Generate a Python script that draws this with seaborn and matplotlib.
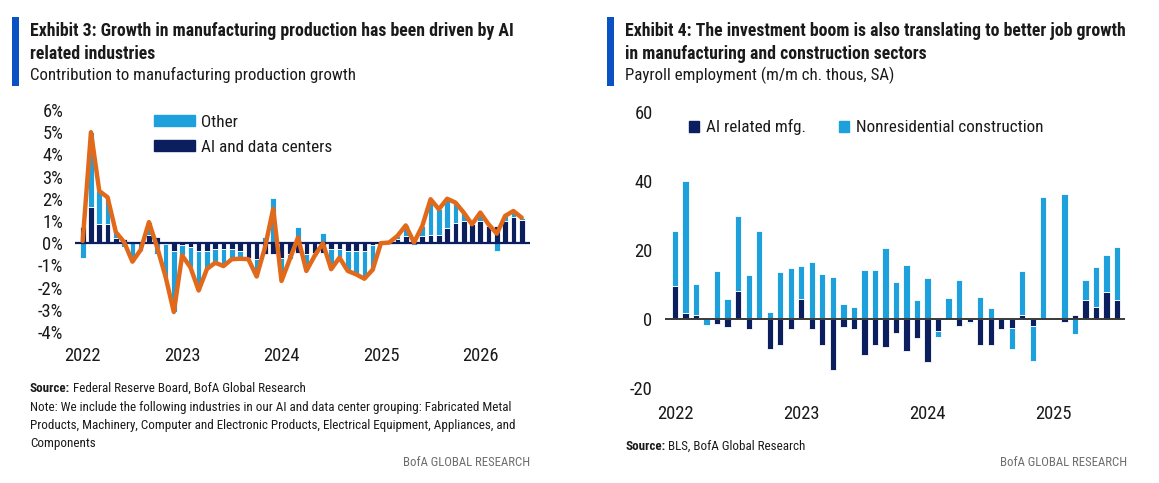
import numpy as np
import matplotlib
matplotlib.use('Agg')
import matplotlib.pyplot as plt
import seaborn as sns
from matplotlib import font_manager
from matplotlib.patches import Rectangle

# Exhibit 3: monthly contributions (%), Jan 2022 .. Jun 2026
ai_contrib = [0.75, 1.65, 0.85, 0.87, 0.25, 0.20, 0.02, 0.05, 0.35, 0.30,
              -0.05, -0.35, -0.10, -0.18, -0.35, -0.35, -0.28, -0.28, -0.28, -0.35,
              -0.65, -0.72, -0.50, -0.50, -0.65, -0.50, -0.45, -0.50, -0.42, -0.45,
              -0.27, -0.27, -0.35, -0.35, -0.35, -0.10, 0.02, 0.05, 0.20, 0.33,
              0.10, 0.33, 0.37, 0.37, 0.70, 0.93, 1.00, 0.85, 0.98, 0.78,
              0.78, 1.00, 1.18, 1.05]
other_contrib = [-0.65, 3.35, 1.50, 1.20, 0.25, -0.15, -0.85, -0.35, 0.60, -0.50,
                 -1.45, -2.75, -0.45, -0.90, -1.78, -0.81, -0.60, -0.75, -0.44, -0.35,
                 -0.07, -0.78, 0.30, 2.05, -1.05, -0.22, 0.71, -0.75, -0.15, 0.45,
                 -0.90, -0.38, -0.90, -1.05, -1.25, -1.10, -0.02, -0.02, 0.13, 0.47,
                 -0.07, 0.45, 1.61, 1.16, 1.30, 0.90, 0.38, 0.00, 0.40, 0.07,
                 -0.35, 0.23, 0.27, 0.10]
total_growth = [0.10, 5.00, 2.35, 2.07, 0.50, 0.05, -0.83, -0.30, 0.95, -0.20,
                -1.50, -3.10, -0.55, -1.08, -2.13, -1.16, -0.88, -1.03, -0.72, -0.70,
                -0.72, -1.50, -0.20, 1.55, -1.70, -0.72, 0.26, -1.25, -0.57, 0.00,
                -1.17, -0.65, -1.25, -1.40, -1.60, -1.20, 0.00, 0.03, 0.33, 0.80,
                0.03, 0.78, 1.98, 1.53, 2.00, 1.83, 1.38, 0.85, 1.38, 0.85,
                0.43, 1.23, 1.45, 1.15]
left_years = ["2022", "2023", "2024", "2025", "2026"]

# Exhibit 4: payroll change (thous), Jan 2022 .. Jul 2025
ai_mfg = [9.5, 1.9, 1.1, 0.0, -1.5, -2.3, 8.2, -2.9, 0.0, -8.6,
          -7.6, -2.9, 5.9, -2.9, -7.6, -14.7, -2.4, -2.9, -10.5, -7.6,
          -8.1, -4.1, -9.1, -5.5, -12.5, -3.3, 0.0, -2.1, -0.7, -7.4,
          -7.4, -2.9, -2.6, 1.3, -2.1, 0.0, 0.0, -0.9, 1.1, 5.5,
          3.6, 7.9, 5.5]
nonres_constr = [16.1, 38.0, 9.1, -1.6, 14.0, 5.9, 21.6, 12.7, 25.4, 2.2,
                 13.7, 14.8, 9.4, 16.6, 13.0, 12.2, 4.4, 3.6, 14.1, 14.1,
                 20.7, 10.7, 15.7, 5.4, 11.9, -2.0, 6.1, 11.3, -0.4, 6.4,
                 3.1, 0.0, -6.1, 12.7, -9.9, 35.4, 0.0, 36.2, -4.3, 5.7,
                 11.6, 10.6, 15.5]
right_years = ["2022", "2023", "2024", "2025"]

NAVY = "#0b1f5e"
LIGHT = "#1ea0dc"
ORANGE = "#e3691a"
HEADER = "#0a52c4"
GREY = "#6e6e6e"

sns.set_style("white")
installed = {f.name for f in font_manager.fontManager.ttflist}
family = next((f for f in ["Liberation Sans Narrow", "Roboto Condensed", "DejaVu Sans Condensed",
                           "Open Sans Condensed", "Roboto", "Lato"] if f in installed), "DejaVu Sans")
plt.rcParams['font.family'] = [family, 'DejaVu Sans']
plt.rcParams['axes.unicode_minus'] = False
plt.rcParams['text.color'] = '#1a1a1a'
plt.rcParams['xtick.color'] = '#1a1a1a'
plt.rcParams['ytick.color'] = '#1a1a1a'

W, H = 1159, 483
fig = plt.figure(figsize=(W / 100, H / 100), dpi=100)
renderer = fig.canvas.get_renderer()


def fit(s, target, weight="normal"):
    # font size that makes s about target pixels wide
    t = fig.text(0, 0, s, fontsize=10, fontweight=weight)
    w = t.get_window_extent(renderer).width
    t.remove()
    return 10 * target / w


TITLE_FS = fit("Exhibit 3: Growth in manufacturing production has been driven by AI", 483, "bold")
SUB_FS = fit("Contribution to manufacturing production growth", 325)
NOTE_FS = fit("Note: We include the following industries in our AI and data center grouping: Fabricated Metal", 476)
TICK_FS = fit("2022", 36)
LEG_FS = fit("AI and data centers", 130)
BRAND_FS = fit("BofA GLOBAL RESEARCH", 127)


def px_axes(x0, x1, y0, y1):
    return fig.add_axes([x0 / W, 1 - y1 / H, (x1 - x0) / W, (y1 - y0) / H])


def stacked(ax, first, second, width):
    first = np.asarray(first, dtype=float)
    second = np.asarray(second, dtype=float)
    idx = np.arange(len(first))
    base2 = np.where(second >= 0, np.maximum(first, 0), np.minimum(first, 0))
    ax.bar(idx, first, width=width, color=NAVY, edgecolor="white", linewidth=0.6, zorder=2)
    ax.bar(idx, second, bottom=base2, width=width, color=LIGHT, edgecolor="white", linewidth=0.6, zorder=2)


def header(xbar, xt, lines, sub):
    fig.add_artist(Rectangle((xbar / W, 1 - 86 / H), 7.5 / W, 69 / H, transform=fig.transFigure,
                             color=HEADER, lw=0))
    fig.text(xt / W, 1 - 31 / H, lines[0], fontsize=TITLE_FS, fontweight="bold", va="center")
    fig.text(xt / W, 1 - 54 / H, lines[1], fontsize=TITLE_FS, fontweight="bold", va="center")
    fig.text(xt / W, 1 - 75 / H, sub, fontsize=SUB_FS, va="center")


def source(x, y, rest):
    t = fig.text(x / W, 1 - y / H, "Source:", fontsize=NOTE_FS, fontweight="bold", va="center")
    bb = t.get_window_extent(renderer)
    fig.text(bb.x1 / W + 2.5 / W, 1 - y / H, rest, fontsize=NOTE_FS, va="center")


# ---- left panel ----
axl = px_axes(75, 530, 110, 332)
n_left = len(ai_contrib)
sp_l = (521.7 - 82.7) / (n_left - 1)
stacked(axl, ai_contrib, other_contrib, 0.68)
sns.lineplot(x=np.arange(n_left), y=total_growth, ax=axl, color=ORANGE, linewidth=3.2, zorder=4)
axl.axhline(0, color=NAVY, lw=1.6, zorder=3)
axl.set_xlim(-(82.7 - 75) / sp_l, (530 - 82.7) / sp_l)
axl.set_ylim(-4, 6)
axl.set_yticks(range(-4, 7))
axl.set_yticklabels([f"{v}%" for v in range(-4, 7)])
axl.set_xticks([12 * k for k in range(len(left_years))])
axl.set_xticklabels(left_years)
axl.tick_params(axis="y", length=0, pad=8.5, labelsize=TICK_FS)
axl.tick_params(axis="x", length=0, pad=11, labelsize=TICK_FS)
sns.despine(ax=axl, left=True, bottom=True)
axl.legend(handles=[Rectangle((0, 0), 1, 1, color=LIGHT), Rectangle((0, 0), 1, 1, color=NAVY)],
           labels=["Other", "AI and data centers"], loc="upper left",
           bbox_to_anchor=((147 - 75) / 455, 1.01), frameon=False, fontsize=LEG_FS,
           handlelength=2.4, handleheight=0.6, handletextpad=0.35, labelspacing=0.6,
           borderaxespad=0)

header(12, 30, ["Exhibit 3: Growth in manufacturing production has been driven by AI",
                "related industries"], "Contribution to manufacturing production growth")
source(30, 388, "Federal Reserve Board, BofA Global Research")
note = ["Note: We include the following industries in our AI and data center grouping: Fabricated Metal",
        "Products, Machinery, Computer and Electronic Products, Electrical Equipment, Appliances, and",
        "Components"]
for k, line in enumerate(note):
    fig.text(30 / W, 1 - (407 + 18 * k) / H, line, fontsize=NOTE_FS, va="center")
fig.text(530 / W, 1 - 463 / H, "BofA GLOBAL RESEARCH", fontsize=BRAND_FS, color=GREY, va="center", ha="right")

# ---- right panel ----
axr = px_axes(665, 1125, 111.7, 388.3)
n_right = len(ai_mfg)
sp_r = (1117 - 675) / (n_right - 1)
stacked(axr, ai_mfg, nonres_constr, 0.6)
axr.axhline(0, color="#3a3a3a", lw=1.4, zorder=3)
axr.set_xlim(-(675 - 665) / sp_r, (1125 - 675) / sp_r)
axr.set_ylim(-20, 60)
axr.set_yticks([-20, 0, 20, 40, 60])
axr.set_xticks([12 * k for k in range(len(right_years))])
axr.set_xticklabels(right_years)
axr.tick_params(axis="y", length=0, pad=9, labelsize=TICK_FS)
axr.tick_params(axis="x", length=0, pad=12, labelsize=TICK_FS)
sns.despine(ax=axr, left=True, bottom=True)
axr.legend(handles=[Rectangle((0, 0), 1, 1, color=NAVY), Rectangle((0, 0), 1, 1, color=LIGHT)],
           labels=["AI related mfg.", "Nonresidential construction"], loc="upper left",
           bbox_to_anchor=((682 - 665) / 460, 0.997), frameon=False, fontsize=LEG_FS, ncol=2,
           handlelength=0.6, handleheight=0.6, handletextpad=0.4, columnspacing=1.9,
           borderaxespad=0)

header(607, 625, ["Exhibit 4: The investment boom is also translating to better job growth",
                  "in manufacturing and construction sectors"], "Payroll employment (m/m ch. thous, SA)")
source(625, 446, "BLS, BofA Global Research")
fig.text(1127 / W, 1 - 463 / H, "BofA GLOBAL RESEARCH", fontsize=BRAND_FS, color=GREY, va="center", ha="right")

fig.savefig("out.png", dpi=100)
